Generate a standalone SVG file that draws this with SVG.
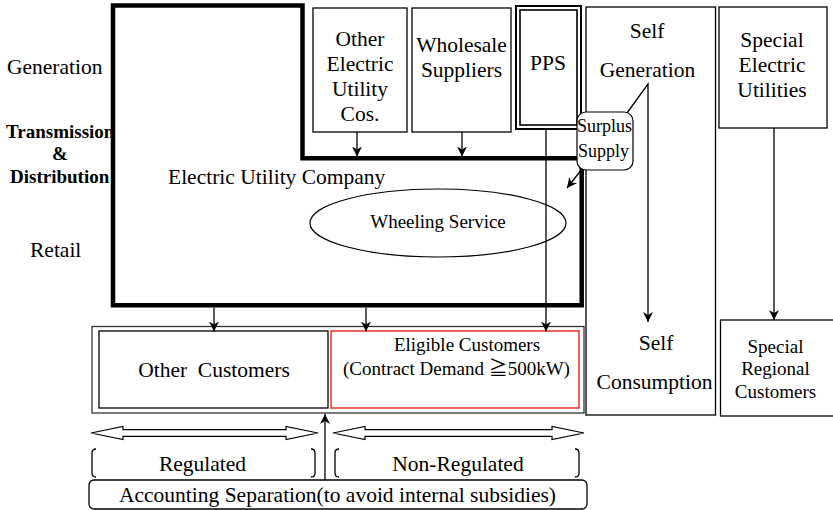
<svg xmlns="http://www.w3.org/2000/svg" width="833" height="510" viewBox="0 0 833 510" font-family="'Liberation Serif', 'DejaVu Serif', serif">
  <style>
    .txt { font-family: "Liberation Serif", "DejaVu Serif", serif; fill: #000; }
    .cjk { font-family: "Noto Sans CJK JP", sans-serif; }
    .t21 { font-size: 21.5px; }
    .t19 { font-size: 19px; }
    .t18 { font-size: 18px; }
    .bold { font-size: 19px; font-weight: bold; }
    .mid { text-anchor: middle; }
    .box { fill: #fff; stroke: #000; stroke-width: 1.3; }
    .thin { fill: none; stroke: #000; stroke-width: 1.3; }
    .conn { fill: none; stroke: #000; stroke-width: 1.3; }
    .arrowed { marker-end: url(#head); }
    .hollow { fill: #fff; stroke: #000; stroke-width: 1.2; }
  </style>
  <defs>
    <marker id="head" viewBox="0 0 10 10" refX="10" refY="5" markerWidth="10" markerHeight="10" markerUnits="userSpaceOnUse" orient="auto">
      <path d="M0,0 L10,5 L0,10 L3,5 Z" fill="#000"/>
    </marker>
  </defs>

  <rect width="833" height="510" fill="#fff"/>

  <!-- row labels -->
  <g id="row-labels" class="txt">
    <text class="t21" x="7" y="74">Generation</text>
    <text class="bold" x="6" y="138">Transmission</text>
    <text class="bold mid" x="60" y="160">&amp;</text>
    <text class="bold" x="10" y="183">Distribution</text>
    <text class="t21" x="30" y="257">Retail</text>
  </g>

  <!-- incumbent utility (L-shaped outline) -->
  <g id="electric-utility" class="txt">
    <path d="M113,5.5 H302.5 V158.3 H581.7 V305.3 H113 Z" fill="none" stroke="#000" stroke-width="4.5"/>
    <text class="t21" x="168" y="184">Electric Utility Company</text>
    <ellipse cx="438" cy="223" rx="128" ry="34" fill="none" stroke="#000" stroke-width="1.2"/>
    <text class="t19 mid" x="438" y="228">Wheeling Service</text>
  </g>

  <g id="other-utilities" class="txt">
    <rect class="box" x="313" y="8" width="94" height="124"/>
    <text class="t21 mid" x="360" y="46">Other</text>
    <text class="t21 mid" x="360" y="71">Electric</text>
    <text class="t21 mid" x="360" y="96">Utility</text>
    <text class="t21 mid" x="360" y="121">Cos.</text>
  </g>

  <g id="wholesale-suppliers" class="txt">
    <rect class="box" x="412" y="8" width="99" height="124"/>
    <text class="t21 mid" x="461.5" y="52">Wholesale</text>
    <text class="t21 mid" x="461.5" y="77">Suppliers</text>
  </g>

  <g id="pps" class="txt">
    <rect x="516" y="6" width="65" height="123" fill="#fff" stroke="#000" stroke-width="2"/>
    <rect x="520" y="10" width="57" height="115" fill="none" stroke="#000" stroke-width="1.6"/>
    <text class="t21 mid" x="548" y="70">PPS</text>
  </g>

  <g id="self-generation" class="txt">
    <rect class="box" x="586" y="7" width="129.5" height="408"/>
    <text class="t21 mid" x="647" y="38">Self</text>
    <text class="t21 mid" x="647.5" y="77">Generation</text>
    <text class="t21 mid" x="656" y="350">Self</text>
    <text class="t21 mid" x="654.5" y="389">Consumption</text>
  </g>

  <g id="special-utilities" class="txt">
    <rect class="box" x="719" y="7" width="108" height="121"/>
    <text class="t21 mid" x="772" y="47">Special</text>
    <text class="t21 mid" x="772" y="72">Electric</text>
    <text class="t21 mid" x="772" y="97">Utilities</text>
  </g>

  <g id="special-regional-customers" class="txt">
    <rect class="box" x="720.5" y="320" width="115" height="96"/>
    <text class="t19 mid" x="775.5" y="353">Special</text>
    <text class="t19 mid" x="775.5" y="375">Regional</text>
    <text class="t19 mid" x="775.5" y="398">Customers</text>
  </g>

  <g id="customers" class="txt">
    <rect x="92" y="326.5" width="492" height="86.5" fill="#fff" stroke="#333" stroke-width="1.3"/>
    <rect x="99" y="331" width="229" height="77" fill="none" stroke="#000" stroke-width="1.3"/>
    <text class="t21 mid" x="214" y="377" style="white-space:pre">Other  Customers</text>
    <rect x="331" y="331" width="248" height="77" fill="none" stroke="#e8231f" stroke-width="1.4"/>
    <text class="t19 mid" x="467" y="350.5">Eligible Customers</text>
    <text class="t19 mid" x="456.5" y="374.5">(Contract Demand <tspan class="cjk">≧</tspan>500kW)</text>
  </g>

  <!-- regulation span arrows and brackets -->
  <g id="regulated" class="txt">
    <polygon class="hollow" points="91,433 123,426.5 123,429.7 286,429.7 286,426.5 318,433 286,439.5 286,436.3 123,436.3 123,439.5"/>
    <path class="thin" d="M96,449 Q92,449 92,453 V473 Q92,477 96,477"/>
    <path class="thin" d="M311,449 Q315,449 315,453 V473 Q315,477 311,477"/>
    <text class="t21 mid" x="202.5" y="471">Regulated</text>
  </g>

  <g id="non-regulated" class="txt">
    <polygon class="hollow" points="333,433 365,426.5 365,429.7 552,429.7 552,426.5 584,433 552,439.5 552,436.3 365,436.3 365,439.5"/>
    <path class="thin" d="M339,449 Q335,449 335,453 V473 Q335,477 339,477"/>
    <path class="thin" d="M575,449 Q579,449 579,453 V473 Q579,477 575,477"/>
    <text class="t21 mid" x="458" y="471">Non-Regulated</text>
  </g>

  <g id="accounting-separation" class="txt">
    <rect class="box" x="89" y="480" width="498" height="29" rx="5"/>
    <text class="t21 mid" x="337.5" y="502">Accounting Separation(to avoid internal subsidies)</text>
  </g>

  <!-- power flows -->
  <g id="connectors">
    <line class="conn arrowed" x1="357" y1="132" x2="357" y2="156.5"/>
    <line class="conn arrowed" x1="462" y1="132" x2="462" y2="156.5"/>
    <line class="conn arrowed" x1="546" y1="129" x2="546" y2="331.5"/>
    <line class="conn arrowed" x1="214" y1="307.5" x2="214" y2="331.5"/>
    <line class="conn arrowed" x1="366" y1="307.5" x2="366" y2="331.5"/>
    <polyline class="conn arrowed" points="627,113 648,84 648,322"/>
    <line class="conn arrowed" x1="582" y1="169" x2="567" y2="188"/>
    <line class="conn arrowed" x1="774" y1="128" x2="774" y2="320"/>
    <line class="conn arrowed" x1="325" y1="480" x2="325" y2="414"/>
  </g>

  <g id="surplus-supply" class="txt">
    <rect x="577" y="112" width="56" height="58" rx="9" fill="#fff" stroke="#000" stroke-width="1.2"/>
    <text class="t18" x="577" y="132">Surplus</text>
    <text class="t18" x="578" y="157">Supply</text>
  </g>
</svg>
